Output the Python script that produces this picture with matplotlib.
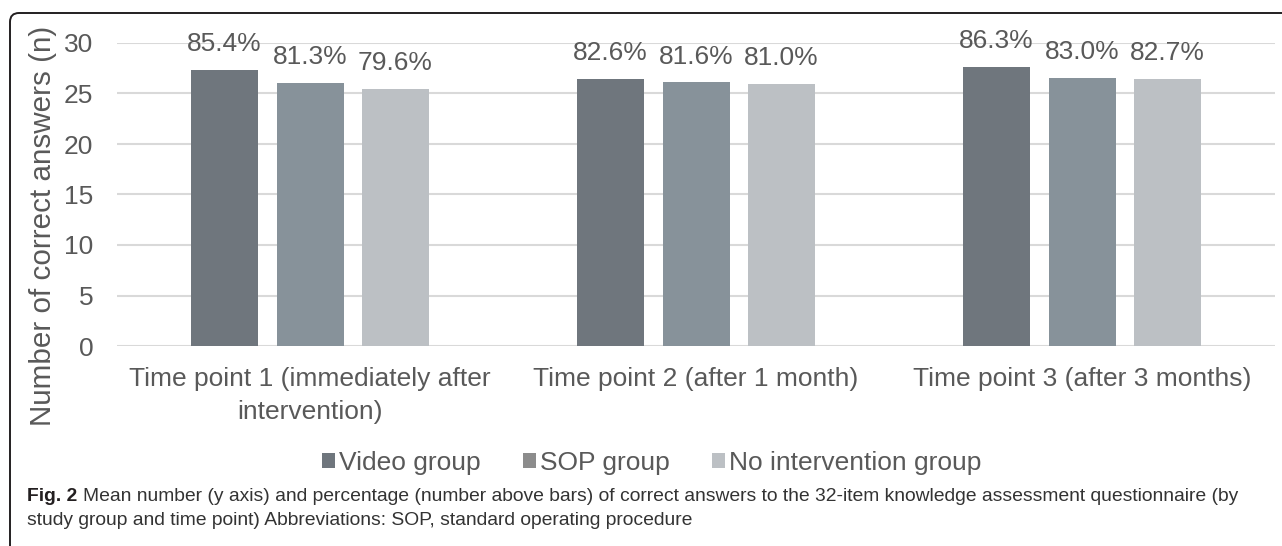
import matplotlib
matplotlib.use("Agg")
import matplotlib.pyplot as plt
from matplotlib.patches import Patch, FancyBboxPatch
from matplotlib.transforms import IdentityTransform
import numpy as np

categories = ["Time point 1 (immediately after\nintervention)",
              "Time point 2 (after 1 month)",
              "Time point 3 (after 3 months)"]
groups = ["Video group", "SOP group", "No intervention group"]
video = [27.33, 26.43, 27.62]
sop = [26.02, 26.11, 26.56]
noint = [25.47, 25.92, 26.46]
video_pct = ["85.4%", "82.6%", "86.3%"]
sop_pct = ["81.3%", "81.6%", "83.0%"]
noint_pct = ["79.6%", "81.0%", "82.7%"]
yticks = [0, 5, 10, 15, 20, 25, 30]

bar_colors = ["#6f767d", "#87929a", "#bcc0c4"]
legend_colors = ["#6f767d", "#8c8c8c", "#bcc0c4"]
txt = "#595959"
FS = 19
FAM = "Liberation Sans"

plt.rcParams['font.family'] = ['Liberation Sans', 'DejaVu Sans']

W, H = 1282, 546
fig = plt.figure(figsize=(W / 100, H / 100), dpi=100)
ax = fig.add_axes([117 / W, (H - 346) / H, (1275 - 117) / W, (346 - 43) / H])

x = np.arange(len(categories))
bw = 67 / 386
off = 85.5 / 386
series = [video, sop, noint]
pcts = [video_pct, sop_pct, noint_pct]
for i, (vals, lab) in enumerate(zip(series, pcts)):
    bars = ax.bar(x + (i - 1) * off, vals, width=bw, color=bar_colors[i], zorder=2)
    for b, t in zip(bars, lab):
        ax.annotate(t, (b.get_x() + b.get_width() / 2, b.get_height()),
                    xytext=(0, 13.5), textcoords="offset points",
                    ha="center", va="baseline", fontsize=FS, color=txt,
                    family=FAM, zorder=3)

ax.set_xlim(-0.5, 2.5)
ax.set_ylim(0, 30)
ax.set_yticks(yticks)
ax.set_yticklabels([str(v) for v in yticks], fontsize=FS, color=txt, family=FAM)
ax.set_xticks(x)
ax.set_xticklabels(categories, fontsize=FS, color=txt, family=FAM, linespacing=1.5)
ax.tick_params(axis="y", length=0, pad=17)
ax.tick_params(axis="x", length=0, pad=15)
ax.yaxis.grid(True, color="#d9d9d9", linewidth=1.5, zorder=0)
ax.set_axisbelow(True)
for s in ax.spines.values():
    s.set_visible(False)
ax.set_ylabel("Number of correct answers (n)", fontsize=21.3, color=txt, family=FAM)
ax.yaxis.set_label_coords((57 - 117) / 1158, (346 - 226) / 303)

handles = [Patch(facecolor=c, edgecolor="none", label=g) for c, g in zip(legend_colors, groups)]
fig.legend(handles=handles, loc="center", bbox_to_anchor=(652 / W, (H - 463) / H),
           ncol=3, frameon=False, prop={"family": FAM, "size": FS},
           labelcolor=txt, handlelength=0.5, handleheight=0.5, handletextpad=0.15,
           columnspacing=1.6)

# caption
capsize = 13.85
t1 = fig.text(27 / W, (H - 501) / H, "Fig. 2", fontsize=capsize, weight="bold",
              color="#231f20", family=FAM, va="baseline")
fig.canvas.draw()
ext = t1.get_window_extent()
fig.text((ext.x1 + 6) / W, (H - 501) / H,
         "Mean number (y axis) and percentage (number above bars) of correct answers to the 32-item knowledge assessment questionnaire (by",
         fontsize=capsize, color="#333333", family=FAM, va="baseline")
fig.text(27 / W, (H - 525) / H,
         "study group and time point) Abbreviations: SOP, standard operating procedure",
         fontsize=capsize, color="#333333", family=FAM, va="baseline")

# border
border = FancyBboxPatch((10, -40), W + 40, (H - 13) + 40,
                        boxstyle="round,pad=0,rounding_size=9",
                        facecolor="none", edgecolor="#231f20", linewidth=1.4,
                        transform=IdentityTransform())
fig.patches.append(border)

fig.savefig("out.png", dpi=100)
